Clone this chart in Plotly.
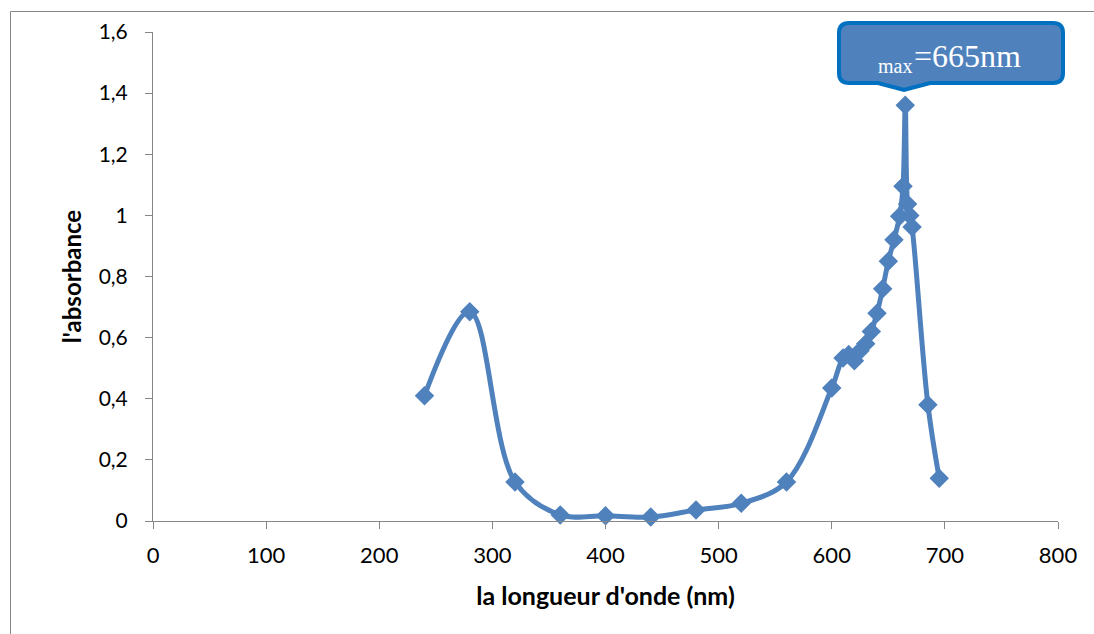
import plotly.graph_objects as go

# ---- data ----
wavelength = [240, 280, 320, 360, 400, 440, 480, 520, 560, 600, 610, 615, 620, 625,
              630, 635, 640, 645, 650, 655, 660, 663, 665, 667, 669, 671, 685, 695]
absorbance = [0.41, 0.685, 0.128, 0.02, 0.017, 0.013, 0.036, 0.058, 0.128, 0.435, 0.533,
              0.545, 0.524, 0.557, 0.58, 0.62, 0.68, 0.76, 0.85, 0.92, 0.997, 1.095,
              1.36, 1.037, 1.0, 0.962, 0.38, 0.14]
y_ticks = [0, 0.2, 0.4, 0.6, 0.8, 1.0, 1.2, 1.4, 1.6]
x_ticks = [0, 100, 200, 300, 400, 500, 600, 700, 800]

W, H = 1094, 634
L, R, T, B = 153, 36, 32, 113
PW, PH = W - L - R, H - T - B


def xp(px):
    return (px - L) / PW


def yp(py):
    return (H - B - py) / PH


BLUE = "#4F81BD"
fig = go.Figure()
fig.add_trace(go.Scatter(
    x=wavelength, y=absorbance, mode="lines+markers",
    line=dict(color=BLUE, width=5, shape="spline", smoothing=1.0),
    marker=dict(symbol="diamond", size=15, color=BLUE),
    showlegend=False, cliponaxis=False,
))

axis_common = dict(showline=True, linecolor="#868686", linewidth=1,
                   ticks="outside", ticklen=7, tickcolor="#868686",
                   showgrid=False, zeroline=False)

fig.update_xaxes(range=[0, 800], tickvals=x_ticks, **axis_common,
                 tickfont=dict(family="Lato", size=22, color="black"),
                 ticklabelstandoff=8,
                 title=dict(text="la longueur d'onde (nm)", standoff=20,
                            font=dict(family="Lato", size=25, color="black", weight="bold")))
fig.update_yaxes(range=[0, 1.6], tickvals=y_ticks, **axis_common,
                 tickfont=dict(family="Lato", size=21, color="black"),
                 ticklabelstandoff=13,
                 title=dict(text="l'absorbance", standoff=10,
                            font=dict(family="Lato", size=24, color="black", weight="bold")))

# outer chart border
fig.add_shape(type="rect", xref="paper", yref="paper",
              x0=xp(10.5), x1=xp(1200), y0=yp(700), y1=yp(11.5),
              line=dict(color="#868686", width=1), fillcolor="rgba(0,0,0,0)", layer="below")

# callout box with pointer
peak_i = absorbance.index(max(absorbance))
x_left, x_right, y_top, y_bot = 839, 1063, 23, 83
tip_px, tip_py = 904, 90
r = 10
rx, ry = r / PW, r / PH
path = (
    f"M {xp(x_left)+rx},{yp(y_top)} "
    f"L {xp(x_right)-rx},{yp(y_top)} "
    f"Q {xp(x_right)},{yp(y_top)} {xp(x_right)},{yp(y_top)-ry} "
    f"L {xp(x_right)},{yp(y_bot)+ry} "
    f"Q {xp(x_right)},{yp(y_bot)} {xp(x_right)-rx},{yp(y_bot)} "
    f"L {xp(tip_px+26)},{yp(y_bot)} "
    f"L {xp(tip_px)},{yp(tip_py)} "
    f"L {xp(tip_px-26)},{yp(y_bot)} "
    f"L {xp(x_left)+rx},{yp(y_bot)} "
    f"Q {xp(x_left)},{yp(y_bot)} {xp(x_left)},{yp(y_bot)+ry} "
    f"L {xp(x_left)},{yp(y_top)-ry} "
    f"Q {xp(x_left)},{yp(y_top)} {xp(x_left)+rx},{yp(y_top)} Z"
)
fig.add_shape(type="path", path=path, xref="paper", yref="paper",
              fillcolor=BLUE, line=dict(color="#0070C0", width=4), layer="above")

fig.add_annotation(x=xp(876), y=yp(66), xref="paper", yref="paper",
                   text="max", showarrow=False, xanchor="left", yanchor="middle",
                   font=dict(family="Liberation Serif", size=20, color="white"))
fig.add_annotation(x=xp(912), y=yp(56), xref="paper", yref="paper",
                   text=f"={wavelength[peak_i]}nm", showarrow=False,
                   xanchor="left", yanchor="middle",
                   font=dict(family="Liberation Serif", size=32, color="white"))

fig.update_layout(
    width=W, height=H, autosize=False,
    margin=dict(l=L, r=R, t=T, b=B, pad=0),
    paper_bgcolor="white", plot_bgcolor="white",
    separators=", ",
    font=dict(family="Lato", color="black"),
)

fig.write_html("out.html")
